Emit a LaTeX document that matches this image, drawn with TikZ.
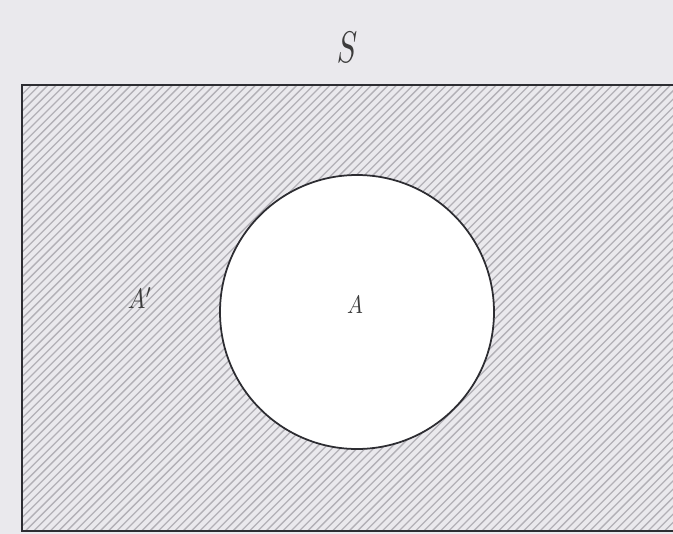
\documentclass[tikz,border=0pt]{standalone}
\begin{document}
\begin{tikzpicture}[x=0.03cm,y=-0.03cm,
  bgcol/.style={fill={rgb,255:red,234;green,233;blue,237}},
  hatchline/.style={draw={rgb,255:red,178;green,176;blue,182},line width=1.1pt},
  setframe/.style={draw={rgb,255:red,45;green,45;blue,50},line width=2.4pt},
  setcircle/.style={draw={rgb,255:red,45;green,45;blue,50},line width=1.5pt,fill=white},
  lbl/.style={font=\itshape,text={rgb,255:red,60;green,60;blue,60}}]
\useasboundingbox (0,0) rectangle (673,534);
\clip (0,0) rectangle (673,534);
\fill[bgcol] (0,0) rectangle (673,534);
\begin{scope}
  \clip (22,85) rectangle (700,531);
  \foreach \i in {0,...,140}{
    \pgfmathsetmacro{\xx}{-460+8.3*\i}
    \draw[hatchline] (\xx,535) -- ({\xx+455},80);
  }
\end{scope}
\draw[setframe] (700,85) -- (22,85) -- (22,531) -- (700,531);
\node[setcircle,circle,minimum size={274*0.03cm},inner sep=0pt] (A) at (357,312) {};
\node[lbl,scale=2.6,yscale=1.45] (S) at (347,47) {$S$};
\node[lbl,scale=2.0,yscale=1.2] (Ac) at (140,298) {$A'$};
\node[lbl,scale=1.8,yscale=1.2] (Ain) at (355,305) {$A$};
\end{tikzpicture}
\end{document}
